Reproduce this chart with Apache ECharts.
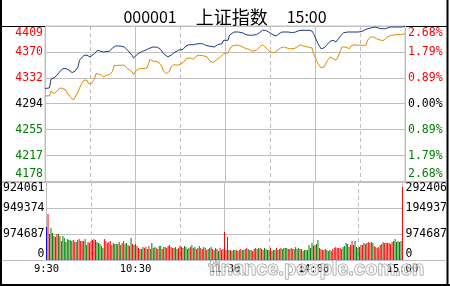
<!DOCTYPE html>
<html><head><meta charset="utf-8">
<script src="https://cdn.jsdelivr.net/npm/echarts@6/dist/echarts.min.js"></script>
<style>html,body{margin:0;padding:0;background:#fff}#c{width:450px;height:286px}</style>
</head><body><div id="c"></div>
<script>
// ---- data ----
const titleCode = '000001';
const titleName = '上证指数';
const titleTime = '15:00';
const xTickLabels = ['9:30', '10:30', '11:30', '14:00', '15:00'];
const priceLeftLabels = ['4178', '4217', '4255', '4294', '4332', '4370', '4409'];
const pctLabels = ['2.68%', '1.79%', '0.89%', '0.00%', '0.89%', '1.79%', '2.68%'];
const volLeftLabels = ['0', '974687', '949374', '924061'];
const volRightLabels = ['0', '974687', '194937', '292406'];

// minutes since 9:30 (0..240, lunch break removed) and index values
const blueMin = [0,3,4,6,8,10,12,14,16,18,20,22,23,26,28,30,33,35,37,39,43,45,47,50,53,55,58,59,62,65,67,69,72,75,77,79,82,84,86,89,92,94,96,99,102,105,107,110,113,115,118,119,120,122,123,126,129,132,134,137,141,143,145,147,149,152,154,156,158,162,165,167,170,176,178,179,180,182,184,185,186,188,190,192,194,195,197,199,202,206,209,212,214,217,220,224,227,230,235,238,240];
const bluePx = [4316.1,4317.1,4330.0,4331.9,4335.9,4341.8,4345.7,4345.7,4343.3,4339.8,4341.8,4348.2,4358.1,4365.5,4365.5,4363.0,4367.8,4372.9,4371.4,4370.4,4371.4,4376.3,4379.2,4379.2,4377.7,4372.9,4365.5,4361.5,4367.8,4371.4,4372.9,4375.2,4377.7,4377.3,4374.3,4367.8,4363.0,4365.5,4369.3,4372.9,4374.3,4379.2,4381.1,4381.1,4382.6,4382.6,4380.3,4378.8,4377.7,4381.1,4382.6,4387.6,4387.6,4387.6,4395.0,4399.9,4399.9,4398.4,4395.9,4395.0,4395.9,4398.9,4402.4,4402.4,4399.9,4395.9,4394.0,4397.4,4399.9,4399.9,4398.9,4399.9,4402.4,4402.4,4401.4,4397.4,4392.5,4382.6,4375.2,4372.9,4376.3,4381.1,4386.2,4387.6,4385.1,4387.6,4394.0,4398.9,4399.9,4399.9,4399.9,4401.4,4403.9,4405.8,4407.3,4404.8,4404.8,4407.3,4407.3,4407.3,4408.3];
const orangeMin = [0,3,4,5,6,8,10,12,14,15,17,19,20,22,24,26,28,29,31,33,34,37,39,41,43,45,46,49,53,55,58,59,61,63,66,68,69,70,72,74,76,78,79,81,83,84,86,88,90,93,94,97,99,101,103,106,108,110,112,114,117,119,120,122,124,126,129,132,134,136,138,141,143,145,146,148,150,153,154,157,159,160,163,166,168,170,172,175,178,179,180,182,184,185,186,188,190,192,194,195,197,198,200,203,204,206,208,214,215,217,219,221,224,226,228,231,234,237,238,240];
const orangePx = [4305.3,4305.3,4312.3,4311.2,4308.7,4312.3,4317.1,4316.1,4313.7,4308.7,4303.8,4299.0,4301.3,4311.2,4322.0,4328.5,4328.5,4323.5,4323.5,4330.9,4338.3,4336.8,4333.4,4335.9,4336.8,4341.8,4349.7,4350.7,4350.7,4345.7,4340.8,4336.8,4343.3,4345.7,4345.7,4346.7,4353.1,4359.6,4356.6,4356.6,4354.5,4348.2,4341.8,4338.3,4341.8,4348.2,4351.6,4350.7,4351.6,4356.6,4360.5,4361.5,4359.6,4364.4,4365.5,4364.4,4363.0,4356.6,4354.5,4358.1,4363.0,4367.8,4369.9,4369.3,4377.7,4380.3,4380.3,4377.7,4375.2,4374.3,4371.4,4372.9,4377.7,4381.1,4379.2,4375.2,4370.4,4369.3,4371.4,4376.3,4377.7,4376.3,4375.2,4375.2,4377.7,4381.1,4379.2,4377.7,4376.3,4367.8,4363.0,4353.1,4346.7,4344.8,4348.2,4356.6,4363.0,4360.5,4358.1,4361.5,4372.9,4377.7,4377.7,4375.2,4379.2,4381.1,4380.3,4380.3,4387.6,4392.5,4392.5,4390.0,4387.6,4387.6,4392.5,4395.0,4395.9,4395.9,4395.0,4397.4];

// per-minute volume (thousand lots), minute 0..240
const volumes = [
1237,1725,975,1200,1012,900,862,975,975,900,
712,900,825,675,787,750,750,712,750,675,
675,750,787,712,712,712,787,562,675,637,
712,750,787,750,675,637,600,525,450,787,
712,637,675,712,562,637,600,600,600,675,
562,637,712,600,637,562,525,825,600,562,
600,525,450,412,412,487,450,487,412,525,
412,637,450,487,450,412,525,525,412,487,
487,450,525,562,487,450,450,487,412,450,
525,487,450,525,487,412,450,487,562,450,
487,412,450,525,450,412,487,450,375,412,
450,487,412,375,450,412,337,450,375,412,
1050,
375,862,375,375,337,375,375,375,337,375,
412,375,375,412,450,412,375,375,337,412,
450,412,450,450,412,375,450,412,375,375,
450,337,375,375,450,375,412,450,412,450,
450,450,412,412,450,412,412,487,412,450,
412,412,337,375,375,375,562,450,637,525,
562,600,750,450,412,375,375,412,375,337,
375,337,412,450,487,450,450,450,412,487,
525,637,600,487,562,712,562,712,487,450,
487,562,562,637,600,637,675,637,675,637,
525,487,450,487,562,600,675,637,637,637,
637,600,675,712,787,675,712,675,712,2737];
// b = opening, r = up minute, g = down minute
const volDirs = ('brgggrgrgr'+'gggggggrrr'+'grrrrgggrr'+'rrrrgggggr'+'rgrrgrggrr'+'grrggrggrg'+'rrrgrgrgrr'+'ggrgrrggrg'
 +'grrgrrgrgr'+'rgrggrgrgr'+'grggrrggrg'+'rgrggrgrrr'+'r'
 +'rrgrgggrgr'+'rgrgrgrgrr'+'grgrgrggrg'+'rgrgrggrgg'
 +'ggrgrrgrgg'+'rrgggggggg'+'rggrrrrggg'+'grrrrrrrgg'+'ggrgrrgggg'+'grrggrrrgg'+'rgrrrrgrrr'+'rrrggggrgr').split('');

// ---- styles ----
const RED = '#ff0000', GREEN = '#008000', GRID = '#c0c0c0';
const dirColor = { r: RED, g: GREEN, b: '#0000ff' };
const MONO = 'DejaVu Sans Mono';

const bluePairs = blueMin.map((m, i) => [m, bluePx[i]]);
const orangePairs = orangeMin.map((m, i) => [m, orangePx[i]]);
const volPairs = volumes.map((v, i) => [i, v]);

function lab(size, extra) { return Object.assign({ fontFamily: MONO, fontSize: size }, extra || {}); }

const priceRich = {
  rt: lab(11.5, { color: RED, padding: [14, 0, 0, 0] }),
  r: lab(11.5, { color: RED }),
  k: lab(11.5, { color: '#000' }),
  g: lab(11.5, { color: GREEN }),
  gb: lab(11.5, { color: GREEN, padding: [0, 0, 14, 0] })
};
function priceStyle(i) { return i === 6 ? 'rt' : i === 0 ? 'gb' : i > 3 ? 'r' : i === 3 ? 'k' : 'g'; }
const volRich = {
  t: lab(11.5, { color: '#000', padding: [13, 0, 0, 0] }),
  k: lab(11.5, { color: '#000' }),
  b: lab(11.5, { color: '#000', padding: [0, 0, 11, 0] })
};
function volStyle(i) { return i === 3 ? 't' : i === 0 ? 'b' : 'k'; }

const PMIN = 4178.4, PMAX = 4408.8, PINT = 38.4;
const VMAX = 2924.061, VINT = 974.687;

const chart = echarts.init(document.getElementById('c'), null, { renderer: 'canvas' });
const xBase = (grid, interval, dashed, labels) => ({
  type: 'value', gridIndex: grid, min: 0, max: 240, interval: interval,
  axisLine: { show: false }, axisTick: { show: false },
  splitLine: { show: true, lineStyle: { color: GRID, width: 1, type: dashed ? [4, 3] : 'solid' } },
  axisLabel: labels ? {
    show: true, margin: 4, color: '#000', fontFamily: MONO, fontSize: 10.5,
    showMinLabel: true, showMaxLabel: true,
    formatter: (v, i) => xTickLabels[Math.round(v / 60)]
  } : { show: false }
});

chart.setOption({
  animation: false,
  backgroundColor: '#fff',
  title: {
    left: 'center', top: 3,
    text: '{d|' + titleCode + '}{s|}{c|' + titleName + '}{s|}{d|' + titleTime + '}',
    textStyle: {
      fontWeight: 'normal',
      rich: {
        d: { fontFamily: 'Noto Sans CJK SC', fontSize: 16, fontWeight: 'normal', color: '#000' },
        c: { fontFamily: 'Noto Sans CJK SC', fontSize: 18, fontWeight: 'normal', color: '#000' },
        s: { width: 19 }
      }
    }
  },
  grid: [
    { left: 45, right: 45, top: 26, height: 155.5, show: true, borderColor: GRID, borderWidth: 1, backgroundColor: 'transparent' },
    { left: 45, right: 45, top: 182, height: 78, show: true, borderColor: GRID, borderWidth: 1, backgroundColor: 'transparent' }
  ],
  xAxis: [xBase(0, 60, false, false), xBase(0, 30, true, false), xBase(1, 60, false, true), xBase(1, 30, true, false)],
  yAxis: [
    { type: 'value', gridIndex: 0, position: 'left', min: PMIN, max: PMAX, interval: PINT,
      axisLine: { show: false }, axisTick: { show: false },
      splitLine: { show: true, lineStyle: { color: GRID } },
      axisLabel: { margin: 2, showMinLabel: true, showMaxLabel: true, rich: priceRich,
        formatter: (v, i) => '{' + priceStyle(i) + '|' + priceLeftLabels[i] + '}' } },
    { type: 'value', gridIndex: 0, position: 'right', min: PMIN, max: PMAX, interval: PINT,
      axisLine: { show: false }, axisTick: { show: false }, splitLine: { show: false },
      axisLabel: { margin: 3, showMinLabel: true, showMaxLabel: true, rich: priceRich,
        formatter: (v, i) => '{' + priceStyle(i) + '|' + pctLabels[i] + '}' } },
    { type: 'value', gridIndex: 1, position: 'left', min: 0, max: VMAX, interval: VINT,
      axisLine: { show: false }, axisTick: { show: false },
      splitLine: { show: true, lineStyle: { color: GRID } },
      axisLabel: { margin: 2, showMinLabel: true, showMaxLabel: true, rich: volRich,
        formatter: (v, i) => '{' + volStyle(i) + '|' + volLeftLabels[i] + '}' } },
    { type: 'value', gridIndex: 1, position: 'right', min: 0, max: VMAX, interval: VINT,
      axisLine: { show: false }, axisTick: { show: false }, splitLine: { show: false },
      axisLabel: { margin: 3, showMinLabel: true, showMaxLabel: true, rich: volRich,
        formatter: (v, i) => '{' + volStyle(i) + '|' + volRightLabels[i] + '}' } }
  ],
  series: [
    { type: 'line', xAxisIndex: 0, yAxisIndex: 0, data: bluePairs, showSymbol: false, z: 3,
      lineStyle: { color: '#1d3c86', width: 1 } },
    { type: 'line', xAxisIndex: 0, yAxisIndex: 0, data: orangePairs, showSymbol: false, z: 2,
      lineStyle: { color: '#e48a00', width: 1 } },
    { type: 'bar', xAxisIndex: 2, yAxisIndex: 2, data: volPairs, barWidth: 1,
      itemStyle: { color: p => dirColor[volDirs[p.dataIndex]] } }
  ],
  graphic: [
    { type: 'line', silent: true, shape: { x1: 1, y1: 0, x2: 1, y2: 286 }, style: { stroke: '#000', lineWidth: 2 } },
    { type: 'line', silent: true, shape: { x1: 447.5, y1: 0, x2: 447.5, y2: 286 }, style: { stroke: '#000', lineWidth: 2 } },
    { type: 'line', silent: true, shape: { x1: 0, y1: 285, x2: 450, y2: 285 }, style: { stroke: '#000', lineWidth: 2 } },
    { type: 'line', silent: true, shape: { x1: 0, y1: 26.5, x2: 448, y2: 26.5 }, style: { stroke: '#000', lineWidth: 1 } },
    { type: 'line', silent: true, shape: { x1: 2, y1: 182, x2: 446, y2: 182 }, style: { stroke: GRID, lineWidth: 2 } },
    { type: 'line', silent: true, shape: { x1: 2, y1: 260.5, x2: 446, y2: 260.5 }, style: { stroke: GRID, lineWidth: 1 } },
    { type: 'text', silent: true, left: 208, top: 259, z: 100,
      style: { text: 'finance.people.com.cn', font: 'bold 20px "Liberation Sans"', fill: 'rgba(255,255,255,0.6)', stroke: 'rgba(110,110,110,0.75)', lineWidth: 1 } }
  ]
});
</script>
</body></html>
